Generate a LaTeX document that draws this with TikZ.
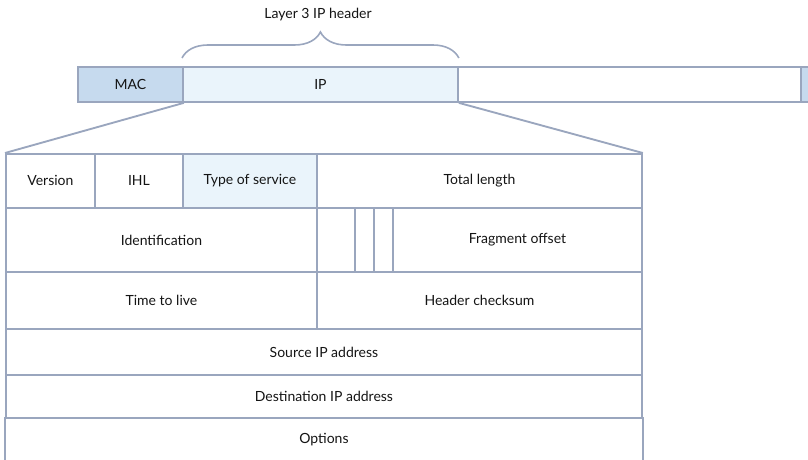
\documentclass[tikz,border=0pt]{standalone}
\usepackage{fontspec}
\setmainfont{Lato}
\usetikzlibrary{positioning,decorations.pathreplacing}
\definecolor{edge}{HTML}{9AA6BE}
\definecolor{macblue}{HTML}{C6DAEE}
\definecolor{ipblue}{HTML}{EAF4FB}
\tikzset{
    field/.style={draw=edge, line width=1.4pt, anchor=north west, inner sep=0pt,
        font=\fontsize{10.5}{12}\selectfont, text=black!92},
    wd/.style={minimum width=#1*0.75pt},
    ht/.style={minimum height=#1*0.75pt}
}
\begin{document}
\begin{tikzpicture}[x=0.75pt, y=-0.75pt]
    \useasboundingbox (0, 0) rectangle (808, 460);
    % frame
    \node[field, wd=105, ht=35, fill=macblue] (mac) at (77, 66) {MAC};
    \node[field, wd=275, ht=35, fill=ipblue] (ip) at (182, 66) {IP};
    \node[field, wd=343, ht=35] (payload) at (457, 66) {};
    \node[field, wd=40, ht=35, fill=macblue] (trailer) at (800, 66) {};
    \draw[decorate, decoration={brace, amplitude=19.5pt}, draw=edge, line width=1.2pt]
        ([yshift=6pt]ip.north west) -- ([yshift=6pt]ip.north east);
    \node[font=\fontsize{10.5}{12}\selectfont, text=black!92] (title) at (318, 15) {Layer 3 IP header};
    % header fields
    \node[field, wd=89, ht=54] (version) at (5, 153) {Version};
    \node[field, wd=88, ht=54] (ihl) at (94, 153) {IHL};
    \node[field, wd=134, ht=54, fill=ipblue] (tos) at (182, 153) {Type of service};
    \node[field, wd=325, ht=54] (total) at (316, 153) {Total length};
    \node[field, wd=311, ht=64] (ident) at (5, 207) {Identification};
    \node[field, wd=38, ht=64] (flag1) at (316, 207) {};
    \node[field, wd=19, ht=64] (flag2) at (354, 207) {};
    \node[field, wd=19, ht=64] (flag3) at (373, 207) {};
    \node[field, wd=249, ht=64] (frag) at (392, 207) {Fragment offset};
    \node[field, wd=311, ht=57] (ttl) at (5, 271) {Time to live};
    \node[field, wd=325, ht=57] (checksum) at (316, 271) {Header checksum};
    \node[field, wd=636, ht=46] (source) at (5, 328) {Source IP address};
    \node[field, wd=636, ht=43] (dest) at (5, 374) {Destination IP address};
    \node[field, wd=636, ht=43, draw=none] (options) at (5, 417) {Options};
    \draw[draw=edge, line width=1.4pt] (options.north west) -- ([yshift=-10pt]options.south west);
    \draw[draw=edge, line width=1.4pt] (options.north east) -- ([yshift=-10pt]options.south east);
    % zoom lines
    \draw[draw=edge, line width=1.4pt] (mac.south east) -- (version.north west);
    \draw[draw=edge, line width=1.4pt] (ip.south east) -- (total.north east);
\end{tikzpicture}
\end{document}
